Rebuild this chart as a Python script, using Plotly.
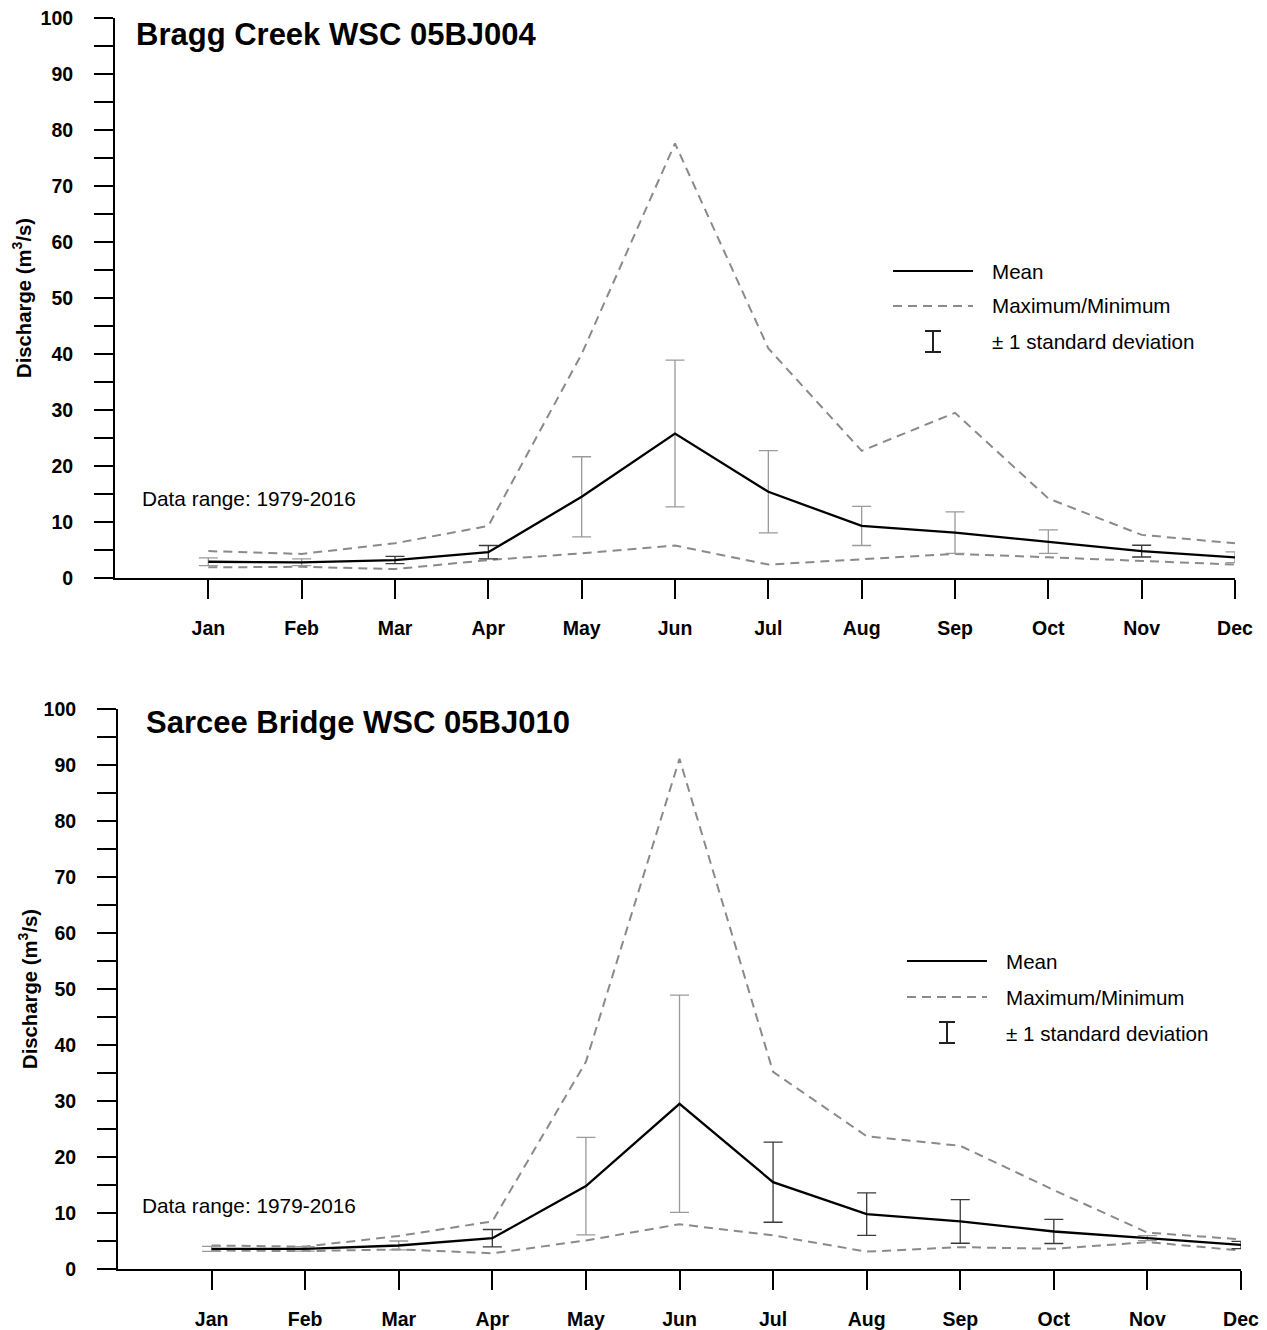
import plotly.graph_objects as go

# --------------------------------------------------------------------------- #
# Data, discharge in m3/s
# --------------------------------------------------------------------------- #

MONTHS = ["Jan", "Feb", "Mar", "Apr", "May", "Jun",
          "Jul", "Aug", "Sep", "Oct", "Nov", "Dec"]
MONTH_POS = list(range(1, 13))

BRAGG_MEAN = [2.9, 2.8, 3.2, 4.6, 14.5, 25.8, 15.4, 9.3, 8.1, 6.5, 4.8, 3.7]
BRAGG_MAX = [4.8, 4.3, 6.2, 9.3, 40.0, 77.6, 41.0, 22.7, 29.5, 14.2, 7.7, 6.2]
BRAGG_MIN = [1.9, 2.0, 1.6, 3.2, 4.4, 5.8, 2.4, 3.4, 4.3, 3.7, 3.1, 2.4]
BRAGG_SD = [0.7, 0.6, 0.65, 1.2, 7.15, 13.1, 7.35, 3.5, 3.7, 2.1, 1.05, 0.95]

SARCEE_MEAN = [3.6, 3.6, 4.2, 5.5, 14.8, 29.5, 15.5, 9.8, 8.5, 6.7, 5.5, 4.3]
SARCEE_MAX = [4.2, 4.0, 5.9, 8.5, 37.0, 91.1, 35.2, 23.7, 22.0, 14.1, 6.5, 5.3]
SARCEE_MIN = [3.3, 3.2, 3.5, 2.8, 5.1, 8.0, 6.0, 3.1, 3.9, 3.6, 4.8, 3.3]
SARCEE_SD = [0.45, 0.4, 0.8, 1.55, 8.7, 19.4, 7.15, 3.8, 3.9, 2.15, 0.45, 0.65]

BRAGG_TITLE = "Bragg Creek WSC 05BJ004"
SARCEE_TITLE = "Sarcee Bridge WSC 05BJ010"
DATA_RANGE = "Data range: 1979-2016"
Y_TITLE = "Discharge (m<sup>3</sup>/s)"
LEGEND_LABELS = ["Mean", "Maximum/Minimum", "\u00b1 1 standard deviation"]

# --------------------------------------------------------------------------- #
# Styling / layout helpers (positions in page pixels)
# --------------------------------------------------------------------------- #

W, H = 1267, 1330
FONT = "Liberation Sans, Arial, sans-serif"
DASH_GREY = "#8a8a8a"
SD_DARK = "#3a3a3a"
SD_LIGHT = "#9a9a9a"

# which months get the darker error bar in each panel (as in the source)
BRAGG_DARK_SD = {"Mar", "Apr", "Nov"}
SARCEE_DARK_SD = {"Apr", "Jul", "Aug", "Sep", "Oct", "Dec"}


def px(x):
    return x / W


def py(y):
    return 1 - y / H


fig = go.Figure()


def add_panel(idx, mean, mx, mn, sd, dark):
    xa = "x" if idx == 1 else "x2"
    ya = "y" if idx == 1 else "y2"
    for series in (mx, mn):
        fig.add_trace(go.Scatter(
            x=MONTH_POS, y=series, mode="lines", xaxis=xa, yaxis=ya,
            line=dict(color=DASH_GREY, width=2, dash="9px,6px"),
            showlegend=False, hoverinfo="skip", cliponaxis=False,
        ))
    for is_dark in (False, True):
        sel = [i for i, m in enumerate(MONTHS) if (m in dark) == is_dark]
        fig.add_trace(go.Scatter(
            x=[MONTH_POS[i] for i in sel], y=[mean[i] for i in sel],
            mode="markers", xaxis=xa, yaxis=ya,
            marker=dict(size=1, color="rgba(0,0,0,0)"),
            error_y=dict(type="data", array=[sd[i] for i in sel],
                         color=SD_DARK if is_dark else SD_LIGHT,
                         thickness=1.3, width=9.5),
            showlegend=False, hoverinfo="skip", cliponaxis=False,
        ))
    fig.add_trace(go.Scatter(
        x=MONTH_POS, y=mean, mode="lines", xaxis=xa, yaxis=ya,
        line=dict(color="black", width=2.3),
        showlegend=False, cliponaxis=False,
    ))


add_panel(1, BRAGG_MEAN, BRAGG_MAX, BRAGG_MIN, BRAGG_SD, BRAGG_DARK_SD)
add_panel(2, SARCEE_MEAN, SARCEE_MAX, SARCEE_MIN, SARCEE_SD, SARCEE_DARK_SD)

tick_font = dict(family=FONT, size=19.5, color="black", weight="bold")


def xaxis_cfg(x0, x1, anchor):
    return dict(
        domain=[px(x0), px(x1)], range=[0, 12], anchor=anchor,
        automargin=False, ticklabeloverflow="allow",
        tickvals=MONTH_POS, ticktext=MONTHS, ticks="outside",
        ticklen=19, tickwidth=2, tickcolor="black", ticklabelstandoff=13,
        showline=True, linewidth=2, linecolor="black",
        showgrid=False, zeroline=False, tickfont=tick_font, fixedrange=True,
    )


def yaxis_cfg(y_top, y_bottom, anchor):
    return dict(
        domain=[py(y_bottom), py(y_top)], range=[0, 100], anchor=anchor,
        automargin=False, ticklabeloverflow="allow",
        tickvals=list(range(0, 101, 10)), ticks="outside",
        ticklen=19, tickwidth=2, tickcolor="black", ticklabelstandoff=17,
        minor=dict(dtick=5, tick0=0, ticks="outside", ticklen=19,
                   tickwidth=2, tickcolor="black"),
        showline=True, linewidth=2, linecolor="black",
        showgrid=False, zeroline=False, tickfont=tick_font, fixedrange=True,
    )


annotations = []
shapes = []


def text(x, y, s, size, angle=0, xanchor="left"):
    annotations.append(dict(
        x=px(x), y=py(y), xref="paper", yref="paper", text=s,
        showarrow=False, xanchor=xanchor, yanchor="middle", textangle=angle,
        font=dict(family=FONT, size=size, color="black"),
    ))


def seg(x0, y0, x1, y1, color="black", width=2, dash=None):
    line = dict(color=color, width=width)
    if dash:
        line["dash"] = dash
    shapes.append(dict(type="line", xref="paper", yref="paper",
                       x0=px(x0), y0=py(y0), x1=px(x1), y1=py(y1), line=line))


def legend(lx0, lx1, tx, y_rows, bar_x):
    seg(lx0, y_rows[0], lx1, y_rows[0], width=2)
    seg(lx0, y_rows[1], lx1, y_rows[1], color=DASH_GREY, width=2, dash="9px,6px")
    top, bot = y_rows[2] - 11, y_rows[2] + 10
    seg(bar_x, top, bar_x, bot, color="#222", width=2)
    seg(bar_x - 8, top, bar_x + 8, top, color="#222", width=2)
    seg(bar_x - 8, bot, bar_x + 8, bot, color="#222", width=2)
    for yy, label in zip(y_rows, LEGEND_LABELS):
        text(tx, yy, label, 20.6)


# top panel decorations
text(134, 35, f"<b>{BRAGG_TITLE}</b>", 31)
text(140, 499, DATA_RANGE, 20.8)
text(22, 298, f"<b>{Y_TITLE}</b>", 20.3, angle=-90, xanchor="center")
legend(893, 973, 990, [271, 306, 342], 933)

# bottom panel decorations
text(144, 722, f"<b>{SARCEE_TITLE}</b>", 31)
text(140, 1205, DATA_RANGE, 20.8)
text(28, 989, f"<b>{Y_TITLE}</b>", 20.3, angle=-90, xanchor="center")
legend(907, 987, 1004, [961, 997, 1033], 947)

fig.update_layout(
    width=W, height=H,
    margin=dict(l=0, r=0, t=0, b=0, autoexpand=False),
    paper_bgcolor="white", plot_bgcolor="white",
    font=dict(family=FONT, color="black"),
    xaxis=xaxis_cfg(115, 1235, "y"),
    yaxis=yaxis_cfg(18, 578, "x"),
    xaxis2=xaxis_cfg(118, 1241, "y2"),
    yaxis2=yaxis_cfg(709, 1269, "x2"),
    annotations=annotations,
    shapes=shapes,
    showlegend=False,
)

fig.write_html(
    "out.html",
    config={"displayModeBar": False, "staticPlot": True},
    post_script=(
        "document.body.style.margin='0';"
        "document.body.style.overflow='hidden';"
        "document.documentElement.style.overflow='hidden';"
    ),
)
